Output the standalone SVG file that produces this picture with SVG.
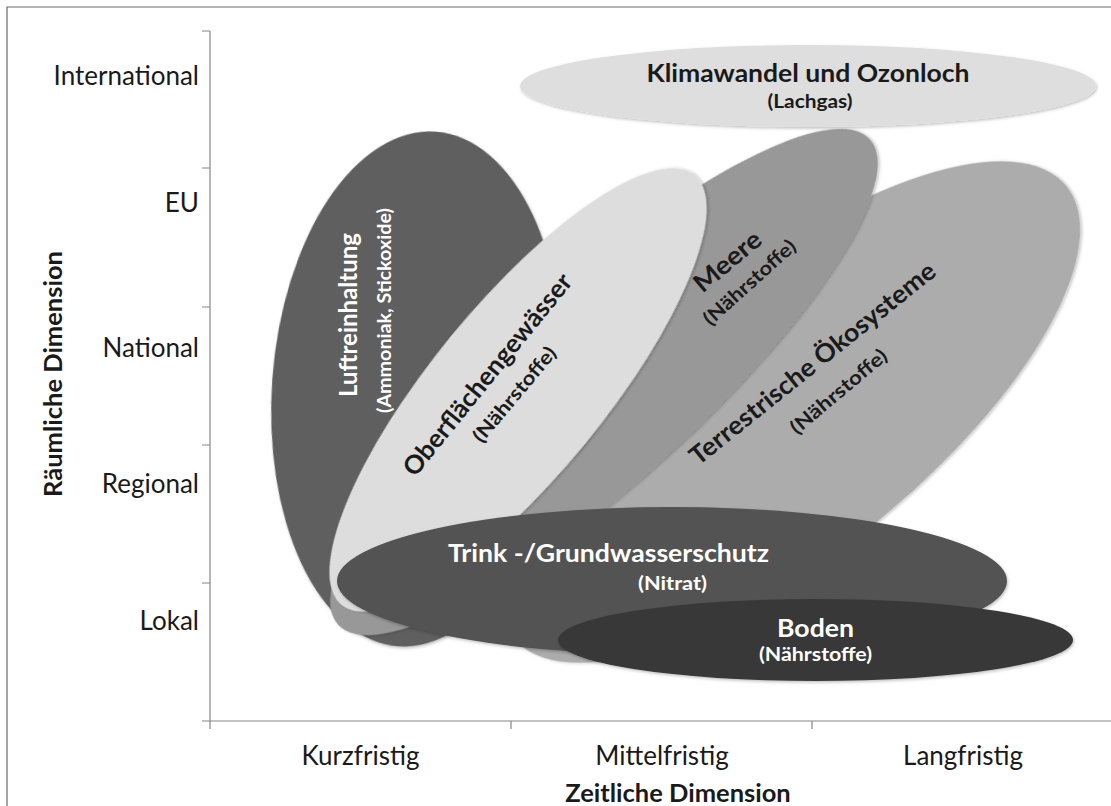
<svg xmlns="http://www.w3.org/2000/svg" width="1111" height="806" viewBox="0 0 1111 806">
<defs>
<style>
.ax{stroke:#868686;stroke-width:1.2;fill:none}
.frame{stroke:#6a6a6a;stroke-width:1.2;fill:none}
.lbl{font-family:Lato,"Liberation Sans",sans-serif;font-size:26px;fill:#1a1a1a}
.axt{font-family:Lato,"Liberation Sans",sans-serif;font-size:25.5px;font-weight:bold;fill:#1a1a1a}
.t{font-family:Lato,"Liberation Sans",sans-serif;font-size:25.5px;font-weight:bold;text-anchor:middle}
.s{font-family:Lato,"Liberation Sans",sans-serif;font-size:19.5px;font-weight:bold;text-anchor:middle}
.w{fill:#ffffff}
.k{fill:#1a1a1a}
.sh{filter:url(#shadow)}
</style>
<filter id="shadow" x="-10%" y="-10%" width="120%" height="120%">
<feDropShadow dx="1" dy="1.5" stdDeviation="1.5" flood-color="#000" flood-opacity="0.25"/>
</filter>
</defs>
<rect width="1111" height="806" fill="#ffffff"/>
<path class="frame" d="M7,806 V7 H1111"/>

<g id="axes">
<path class="ax" d="M210,31 V729 M202,31 H210 M202,168 H210 M202,307 H210 M202,445 H210 M202,583 H210 M202,721 H1111 M511,721 V729 M812,721 V729"/>
<text class="lbl" x="199" y="85" text-anchor="end">International</text>
<text class="lbl" x="199" y="212" text-anchor="end">EU</text>
<text class="lbl" x="199" y="357" text-anchor="end">National</text>
<text class="lbl" x="199" y="493" text-anchor="end">Regional</text>
<text class="lbl" x="199" y="630" text-anchor="end">Lokal</text>
<text class="lbl" x="360.5" y="765" text-anchor="middle">Kurzfristig</text>
<text class="lbl" x="662" y="765" text-anchor="middle">Mittelfristig</text>
<text class="lbl" x="963" y="765" text-anchor="middle">Langfristig</text>
<text class="axt" x="678" y="802" text-anchor="middle">Zeitliche Dimension</text>
<text class="axt" transform="translate(62,374) rotate(-90)" text-anchor="middle">Räumliche Dimension</text>
</g>

<g id="terrestrische">
<ellipse class="sh" cx="0" cy="0" rx="357" ry="140" fill="#acacac" transform="translate(790,412) rotate(-39.3)"/>
</g>
<g id="luftreinhaltung">
<ellipse class="sh" cx="0" cy="0" rx="145" ry="258" fill="#5f5f5f" transform="translate(417,389) rotate(4.2)"/>
<text class="t w" transform="translate(357,315) rotate(-90)" textLength="164" lengthAdjust="spacingAndGlyphs">Luftreinhaltung</text>
<text class="s w" transform="translate(391,310.5) rotate(-90)" textLength="205" lengthAdjust="spacingAndGlyphs">(Ammoniak, Stickoxide)</text>
</g>
<g id="meere">
<ellipse class="sh" cx="0" cy="0" rx="360" ry="97" fill="#989898" transform="translate(604,382) rotate(-42.4)"/>
</g>
<g id="oberflaechengewaesser">
<ellipse class="sh" cx="0" cy="0" rx="278" ry="86" fill="#dddddd" transform="translate(518,390) rotate(-50.6)"/>
<text class="t k" transform="translate(488,375) rotate(-51)" y="8" textLength="252" lengthAdjust="spacingAndGlyphs">Oberflächengewässer</text>
<text class="s k" transform="translate(515,395) rotate(-50)" y="6" textLength="118" lengthAdjust="spacingAndGlyphs">(Nährstoffe)</text>
</g>
<g id="meere-text">
<text class="t k" transform="translate(728,262) rotate(-40)" y="8" textLength="80" lengthAdjust="spacingAndGlyphs">Meere</text>
<text class="s k" transform="translate(750,283) rotate(-42)" y="6" textLength="117" lengthAdjust="spacingAndGlyphs">(Nährstoffe)</text>
</g>
<g id="terrestrische-text">
<text class="t k" transform="translate(813,364) rotate(-38.7)" y="8" textLength="307" lengthAdjust="spacingAndGlyphs">Terrestrische Ökosysteme</text>
<text class="s k" transform="translate(839,392) rotate(-40)" y="6" textLength="120" lengthAdjust="spacingAndGlyphs">(Nährstoffe)</text>
</g>
<g id="trinkwasser">
<ellipse class="sh" cx="672" cy="581" rx="335" ry="74" fill="#525252"/>
<text class="t w" x="608.5" y="562" textLength="321" lengthAdjust="spacingAndGlyphs">Trink -/Grundwasserschutz</text>
<text class="s w" x="672.5" y="590" textLength="69" lengthAdjust="spacingAndGlyphs">(Nitrat)</text>
</g>
<g id="boden">
<ellipse class="sh" cx="815.5" cy="640" rx="257.5" ry="41" fill="#393939"/>
<text class="t w" x="815.5" y="637" textLength="77" lengthAdjust="spacingAndGlyphs">Boden</text>
<text class="s w" x="815.5" y="661" textLength="113" lengthAdjust="spacingAndGlyphs">(Nährstoffe)</text>
</g>
<g id="klimawandel">
<ellipse class="sh" cx="808" cy="86" rx="288" ry="41" fill="#dedede"/>
<text class="t k" x="808" y="82" textLength="323" lengthAdjust="spacingAndGlyphs">Klimawandel und Ozonloch</text>
<text class="s k" x="810" y="108" textLength="85" lengthAdjust="spacingAndGlyphs">(Lachgas)</text>
</g>
<g id="connectors"></g>
</svg>
